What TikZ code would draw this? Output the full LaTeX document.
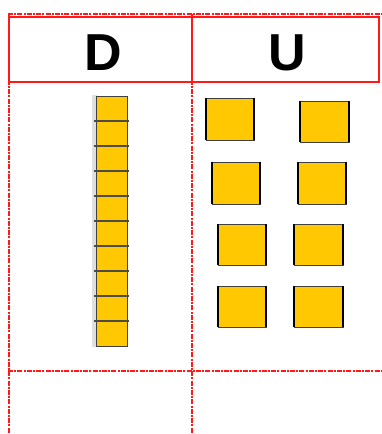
\documentclass[tikz,border=0pt]{standalone}
\usepackage{fontspec}
\setmainfont{Liberation Sans}
\definecolor{cubey}{HTML}{FFC800}
\definecolor{gridred}{HTML}{FF1A1A}
\begin{document}
\begin{tikzpicture}[x=1pt,y=-1pt,
  redash/.style={gridred,line width=2pt,dash pattern=on 5pt off 1.2pt on 2pt off 1.2pt},
  redsolid/.style={gridred,line width=1.6pt},
  unitcube/.style={fill=cubey,draw=black!75,line width=0.6pt},
  cubeside/.style={black,line width=2.2pt},
  headlabel/.style={font=\bfseries\fontsize{52}{52}\selectfont,inner sep=0pt}]
\useasboundingbox (0,0) rectangle (381,434);
% grid
\draw[redash] (8,14) -- (381,14);
\draw[redash] (9,14) -- (9,434);
\draw[redash] (192,14) -- (192,434);
\draw[redash] (8,371) -- (381,371);
\draw[redsolid] (9,17) rectangle (379,82);
\draw[redsolid] (192,17) -- (192,82);
% labels
\node[headlabel] (D) at (103,52.5) {D};
\node[headlabel] (U) at (287,52.5) {U};
% ten-rod
\fill[black!12] (92,95) rectangle (97,347);
\draw[unitcube,line width=1pt] (96,96) rectangle (127,346);
\foreach \i in {1,...,9} \draw[black!70,line width=1.1pt] (94,96+25*\i) -- (129,96+25*\i);
% unit cubes
\foreach \xa/\ya/\xb/\yb in {206/98/254/140, 300/101/349/142, 212/162/260/204, 298/162/346/204,
  218/224/266/265, 294/224/343/265, 218/286/266/327, 294/286/343/327}{
  \draw[unitcube] (\xa,\ya) rectangle (\xb,\yb);
  \draw[cubeside] (\xa,\ya) -- (\xa,\yb);
  \draw[cubeside] (\xb,\ya) -- (\xb,\yb);
}
\end{tikzpicture}
\end{document}
